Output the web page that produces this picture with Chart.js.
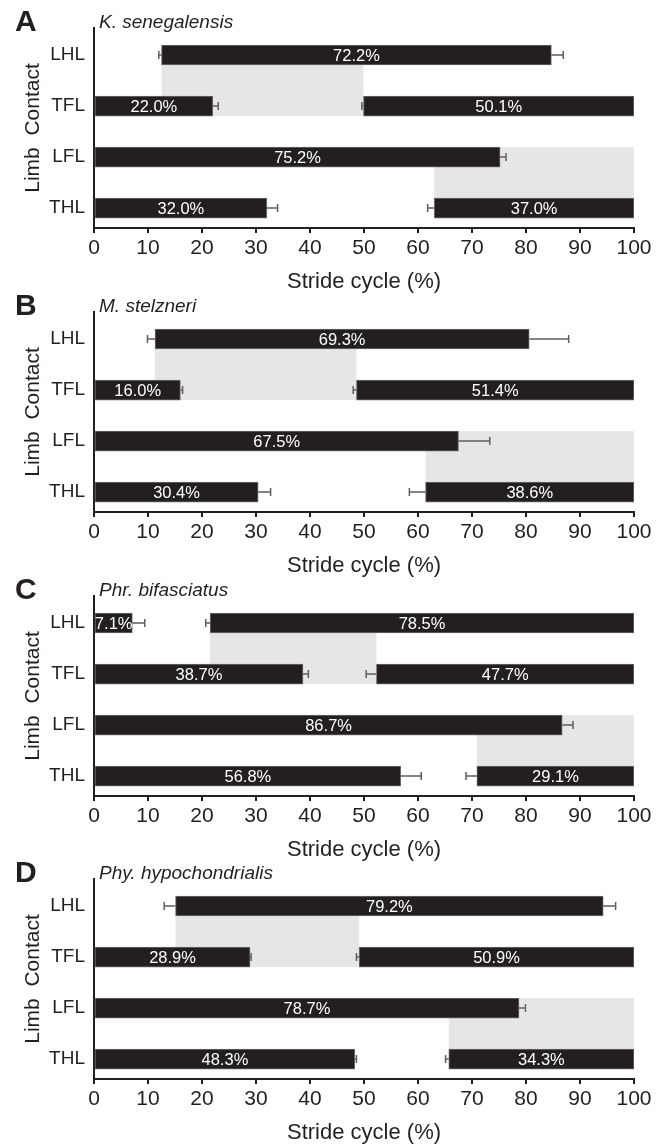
<!DOCTYPE html>
<html>
<head>
<meta charset="utf-8">
<script src="https://cdn.jsdelivr.net/npm/chart.js@4"></script>
<style>
  html, body { margin: 0; padding: 0; background: #fff; }
  body { width: 666px; height: 1146px; position: relative; overflow: hidden; font-family: "Liberation Sans", Arial, sans-serif; }
  .panel { position: absolute; left: 0; width: 666px; height: 300px; }
  .panel canvas { position: absolute; left: 0; top: 0; }
  .letter { position: absolute; left: 15px; top: 6px; font-size: 30px; line-height: 30px; font-weight: bold; color: #231f20; }
  .species { position: absolute; left: 99px; top: 12px; font-size: 19px; line-height: 19px; font-style: italic; color: #231f20; }
</style>
</head>
<body>
<script>
// gait diagrams, one panel per species

const rowLabels = ['LHL', 'TFL', 'LFL', 'THL'];
const panelLetters = ['A', 'B', 'C', 'D'];
const speciesNames = ['K. senegalensis', 'M. stelzneri', 'Phr. bifasciatus', 'Phy. hypochondrialis'];
const xTicks = [0, 10, 20, 30, 40, 50, 60, 70, 80, 90, 100];

// one inner list per panel (A..D); row 1 = LHL ... row 4 = THL
const barRows = [
  [1, 2, 2, 3, 4, 4],
  [1, 2, 2, 3, 4, 4],
  [1, 1, 2, 2, 3, 4, 4],
  [1, 2, 2, 3, 4, 4]
];
const barStart = [
  [12.5, 0, 49.9, 0, 0, 63.0],
  [11.3, 0, 48.6, 0, 0, 61.4],
  [0, 21.5, 0, 52.3, 0, 0, 70.9],
  [15.1, 0, 49.1, 0, 0, 65.7]
];
const barEnd = [
  [84.7, 22.0, 100, 75.2, 32.0, 100],
  [80.6, 16.0, 100, 67.5, 30.4, 100],
  [7.1, 100, 38.7, 100, 86.7, 56.8, 100],
  [94.3, 28.9, 100, 78.7, 48.3, 100]
];
const dutyLabels = [
  ['72.2%', '22.0%', '50.1%', '75.2%', '32.0%', '37.0%'],
  ['69.3%', '16.0%', '51.4%', '67.5%', '30.4%', '38.6%'],
  ['7.1%', '78.5%', '38.7%', '47.7%', '86.7%', '56.8%', '29.1%'],
  ['79.2%', '28.9%', '50.9%', '78.7%', '48.3%', '34.3%']
];
// s.d. of touch-down (start) and lift-off (end)
const sdStart = [
  [0.5, 0, 0.3, 0, 0, 1.2],
  [1.4, 0, 0.6, 0, 0, 3.0],
  [0, 0.8, 0, 1.9, 0, 0, 2.0],
  [2.1, 0, 0.5, 0, 0, 0.6]
];
const sdEnd = [
  [2.2, 1.0, 0, 1.1, 2.0, 0],
  [7.3, 0.4, 0, 5.8, 2.3, 0],
  [2.3, 0, 1.0, 0, 2.0, 3.8, 0],
  [2.3, 0.2, 0, 1.2, 0.3, 0]
];
// grey bands: [from, to] on the stride axis, first over rows 1-2, second over rows 3-4
const shadeRanges = [
  [[12.5, 49.9], [63.0, 100]],
  [[11.3, 48.6], [61.4, 100]],
  [[21.5, 52.3], [70.9, 100]],
  [[15.1, 49.1], [65.7, 100]]
];
const shadeRows = [[1, 2], [3, 4]];

const panelTops = [0, 284, 568, 851];

const ink = '#231f20';
const BAR_T = 20;
Chart.defaults.font.family = '"Liberation Sans", Arial, sans-serif';
Chart.defaults.color = ink;

const shadePlugin = {
  id: 'shade',
  beforeDatasetsDraw(chart, args, opts) {
    const {ctx, scales: {x, y}} = chart;
    ctx.save();
    ctx.fillStyle = '#e6e6e6';
    opts.ranges.forEach((r, k) => {
      const x0 = x.getPixelForValue(r[0]);
      const x1 = x.getPixelForValue(r[1]);
      const y0 = y.getPixelForValue(shadeRows[k][0]) - BAR_T / 2;
      const y1 = y.getPixelForValue(shadeRows[k][1]) + BAR_T / 2;
      ctx.fillRect(x0, y0, x1 - x0, y1 - y0);
    });
    ctx.restore();
  }
};

const errorPlugin = {
  id: 'sdbars',
  afterDatasetsDraw(chart, args, opts) {
    const {ctx, scales: {x, y}} = chart;
    ctx.save();
    ctx.strokeStyle = '#5e5e5e';
    ctx.lineWidth = 1.5;
    opts.rows.forEach((row, i) => {
      const py = y.getPixelForValue(row);
      const segs = [];
      if (opts.sdStart[i] > 0) segs.push([opts.start[i], opts.start[i] - opts.sdStart[i]]);
      if (opts.sdEnd[i] > 0) segs.push([opts.end[i], opts.end[i] + opts.sdEnd[i]]);
      segs.forEach(s => {
        const a = x.getPixelForValue(s[0]);
        const b = x.getPixelForValue(s[1]);
        ctx.beginPath();
        ctx.moveTo(a, py);
        ctx.lineTo(b, py);
        ctx.moveTo(b, py - 4);
        ctx.lineTo(b, py + 4);
        ctx.stroke();
      });
    });
    ctx.restore();
  }
};

const labelPlugin = {
  id: 'dutyText',
  afterDatasetsDraw(chart, args, opts) {
    const {ctx} = chart;
    const meta = chart.getDatasetMeta(0);
    ctx.save();
    ctx.fillStyle = '#ffffff';
    ctx.font = '16.5px "Liberation Sans", Arial, sans-serif';
    ctx.textAlign = 'center';
    ctx.textBaseline = 'middle';
    meta.data.forEach((bar, i) => {
      ctx.fillText(opts.labels[i], (bar.x + bar.base) / 2, bar.y + 1);
    });
    ctx.restore();
  }
};

panelLetters.forEach((letter, p) => {
  const wrap = document.createElement('div');
  wrap.className = 'panel';
  wrap.style.top = panelTops[p] + 'px';
  const canvas = document.createElement('canvas');
  canvas.width = 666;
  canvas.height = 300;
  wrap.appendChild(canvas);
  const l = document.createElement('div');
  l.className = 'letter';
  l.textContent = letter;
  wrap.appendChild(l);
  const s = document.createElement('div');
  s.className = 'species';
  s.textContent = speciesNames[p];
  wrap.appendChild(s);
  document.body.appendChild(wrap);

  new Chart(canvas.getContext('2d'), {
    type: 'bar',
    data: {
      datasets: [{
        data: barRows[p].map((r, i) => ({y: r, x: [barStart[p][i], barEnd[p][i]]})),
        backgroundColor: ink,
        borderColor: '#6e6e6e',
        borderWidth: 1,
        borderSkipped: false,
        barThickness: BAR_T
      }]
    },
    options: {
      indexAxis: 'y',
      responsive: false,
      animation: false,
      layout: {padding: {top: 28, right: 32, left: 0, bottom: 5}},
      plugins: {
        legend: {display: false},
        tooltip: {enabled: false},
        shade: {ranges: shadeRanges[p]},
        sdbars: {rows: barRows[p], start: barStart[p], end: barEnd[p], sdStart: sdStart[p], sdEnd: sdEnd[p]},
        dutyText: {labels: dutyLabels[p]}
      },
      scales: {
        x: {
          type: 'linear',
          min: 0,
          max: 100,
          afterBuildTicks: sc => { sc.ticks = xTicks.map(v => ({value: v})); },
          ticks: {font: {size: 21}, color: ink, padding: 3, maxRotation: 0},
          grid: {drawOnChartArea: false, drawTicks: true, tickLength: 5, color: ink, lineWidth: 2},
          border: {color: ink, width: 2},
          title: {display: true, text: 'Stride cycle (%)', font: {size: 22}, color: ink, padding: {top: 0, bottom: 0}},
          afterFit: sc => { sc.height = 67; }
        },
        y: {
          type: 'linear',
          reverse: true,
          offset: false,
          min: 0.47,
          max: 4.39,
          afterBuildTicks: sc => { sc.ticks = rowLabels.map((n, i) => ({value: i + 1})); },
          ticks: {callback: v => rowLabels[v - 1], font: {size: 19}, color: ink, padding: 9},
          grid: {display: false, drawTicks: false},
          border: {color: ink, width: 2},
          title: {display: true, text: 'Limb  Contact', font: {size: 21}, color: ink, padding: {top: 21, bottom: 0}},
          afterFit: sc => { sc.width = 94; }
        }
      }
    },
    plugins: [shadePlugin, errorPlugin, labelPlugin]
  });
});
</script>
</body>
</html>
